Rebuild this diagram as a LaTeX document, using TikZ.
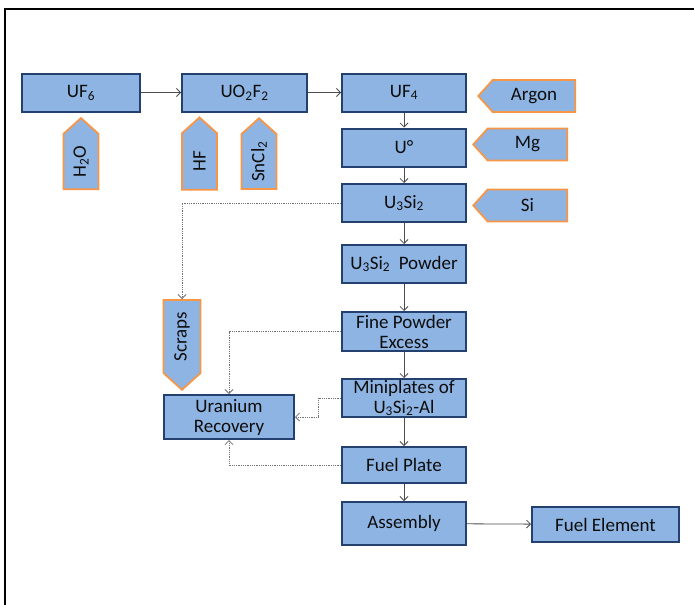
\documentclass[tikz,border=0pt]{standalone}
\usepackage{fontspec}
\setmainfont{Carlito}
\usetikzlibrary{arrows,arrows.meta,shapes.symbols,positioning}
\definecolor{boxfill}{RGB}{142,180,227}
\definecolor{boxline}{RGB}{36,64,110}
\definecolor{tagline}{RGB}{247,150,70}

\begin{document}
\begin{tikzpicture}[x=1pt, y=-1pt,
    >={Straight Barb[length=4pt, width=8pt]},
    box/.style={rectangle, draw=boxline, fill=boxfill, line width=2pt,
        align=center, inner sep=1pt, text=black!95,
        font=\fontsize{19}{20}\selectfont},
    mid/.style={box, minimum width=124pt, minimum height=38pt},
    tag/.style={signal, signal pointer angle=96, draw=tagline, fill=boxfill,
        line width=1.8pt, inner sep=1pt, text=black!95,
        font=\fontsize{19}{20}\selectfont},
    tagup/.style={tag, signal to=north, minimum width=35pt, minimum height=63pt},
    tagleft/.style={tag, signal to=west, minimum width=94pt, minimum height=32pt},
    flow/.style={->, draw=black!70, line width=0.8pt},
    scrap/.style={->, draw=black!55, densely dotted, line width=0.8pt}]
        \useasboundingbox (0,0) rectangle (694,605);
        % Frame
        \draw [line width=2.5pt] (5,605) -- (5,9) -- (694,9);

        % Top row
        \node [box, minimum width=118pt, minimum height=38pt] (uf6) at (81,92.5) {UF\textsubscript{6}};
        \node [box, minimum width=125pt, minimum height=38pt] (uo2f2) at (244.5,92.5) {UO\textsubscript{2}F\textsubscript{2}};
        \node [mid] (uf4) at (404,92.5) {UF\textsubscript{4}};

        % Main column
        \node [mid] (umetal) at (404,147.5) {U°};
        \node [mid] (u3si2) at (404,203) {U\textsubscript{3}Si\textsubscript{2}};
        \node [mid] (powder) at (404,264) {U\textsubscript{3}Si\textsubscript{2}\ \ Powder};
        \node [mid, minimum height=39pt] (fine) at (404,331.5) {Fine Powder\\Excess};
        \node [mid] (mini) at (404,398) {Miniplates of\\U\textsubscript{3}Si\textsubscript{2}-Al};
        \node [mid, minimum height=36pt] (plate) at (404,465) {Fuel Plate};
        \node [mid, minimum height=43pt] (assembly) at (404,523.5) {Assembly};
        \node [box, minimum width=147pt, minimum height=35pt] (element) at (605.5,524.5) {Fuel Element};
        \node [box, minimum width=130pt, minimum height=44pt] (recovery) at (229,417) {Uranium\\Recovery};

        % Reagents
        \node [tagup] (water) at (81,161.5) {\rotatebox{90}{H\textsubscript{2}O}};
        \node [tagup] (hf) at (199.5,161.5) {\rotatebox{90}{HF}};
        \node [tagup] (sncl2) at (259,161.5) {\rotatebox{90}{SnCl\textsubscript{2}}};
        \node [tagleft, minimum width=97pt] (argon) at (534,96) {Argon};
        \node [tagleft] (mg) at (527.5,144.5) {Mg};
        \node [tagleft] (si) at (527.5,205.5) {Si};
        \node [tag, signal to=south, minimum width=37pt, minimum height=81pt] (scraps) at (182,336.5) {\rotatebox{90}{Scraps}};

        % Arrows
        \draw [flow] (uf6) -- (uo2f2);
        \draw [flow] (uo2f2) -- (uf4);
        \draw [flow] (uf4) -- (umetal);
        \draw [flow] (umetal) -- (u3si2);
        \draw [flow] (u3si2) -- (powder);
        \draw [flow] (powder) -- (fine);
        \draw [flow] (fine) -- (mini);
        \draw [flow] (mini) -- (plate);
        \draw [flow] (plate) -- (assembly);
        \draw [flow] (assembly) -- (element);

        % Recovery lines
        \draw [scrap] (u3si2.west) -| (scraps.north);
        \draw [scrap] (fine.west) -| (recovery.north);
        \draw [scrap] (mini.west) -- ++(-23,0) |- (recovery.east);
        \draw [scrap] (plate.west) -| (recovery.south);
\end{tikzpicture}
\end{document}
